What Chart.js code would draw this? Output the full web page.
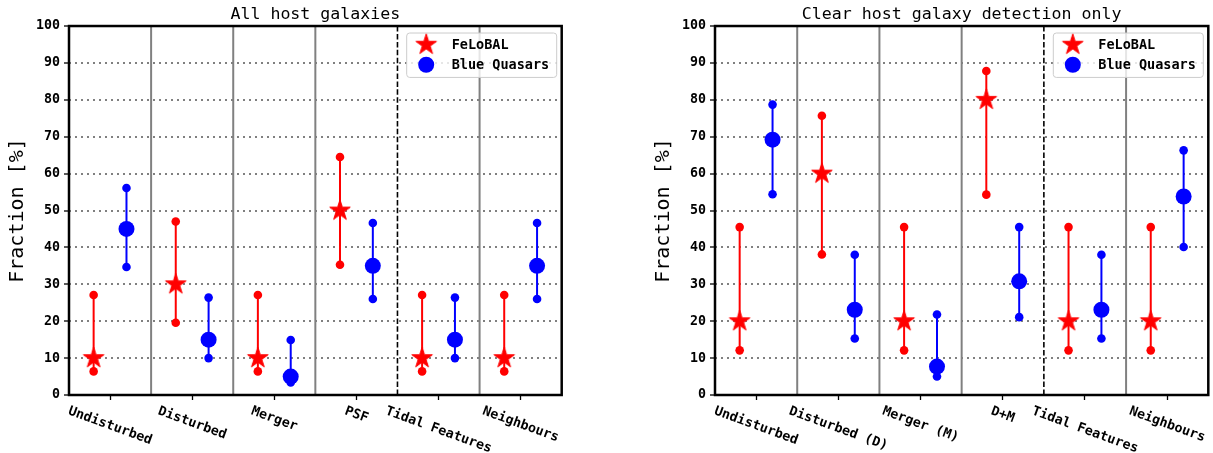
<!DOCTYPE html>
<html><head><meta charset="utf-8">
<script src="https://cdn.jsdelivr.net/npm/chart.js@4"></script>
<style>
html,body{margin:0;padding:0;background:#fff;width:1213px;height:453px;overflow:hidden}
#c1{position:absolute;left:0;top:0}
#c2{position:absolute;left:646px;top:0}
</style></head><body>
<canvas id="c1" width="606" height="453"></canvas>
<canvas id="c2" width="567" height="453"></canvas>
<script>
// ---------------- data ----------------
const titleAll = 'All host galaxies';
const titleClear = 'Clear host galaxy detection only';
const yAxisLabel = 'Fraction [%]';
const seriesNames = ['FeLoBAL', 'Blue Quasars'];
const yMin = 0, yMax = 100, yStep = 10;
const dividerAfter = 3; // dashed divider after the 4th category

const categoriesAll = ['Undisturbed', 'Disturbed', 'Merger', 'PSF', 'Tidal Features', 'Neighbours'];
const feloAll   = [10, 30, 10, 50, 10, 10];
const feloAllLo = [6.4, 19.6, 6.4, 35.3, 6.4, 6.4];
const feloAllHi = [27.1, 47.0, 27.1, 64.5, 27.1, 27.1];
const blueAll   = [45, 15, 5, 35, 15, 35];
const blueAllLo = [34.7, 10.0, 3.4, 26.0, 10.0, 26.0];
const blueAllHi = [56.1, 26.4, 14.9, 46.6, 26.4, 46.6];

const categoriesClear = ['Undisturbed', 'Disturbed (D)', 'Merger (M)', 'D+M', 'Tidal Features', 'Neighbours'];
const feloClear   = [20, 60, 20, 80, 20, 20];
const feloClearLo = [12.1, 38.1, 12.1, 54.3, 12.1, 12.1];
const feloClearHi = [45.5, 75.7, 45.5, 87.8, 45.5, 45.5];
const blueClear   = [69.2, 23.1, 7.7, 30.8, 23.1, 53.8];
const blueClearLo = [54.4, 15.3, 5.0, 21.1, 15.3, 40.1];
const blueClearHi = [78.7, 38.0, 21.8, 45.5, 38.0, 66.3];

// ---------------- style ----------------
const MONO = '"DejaVu Sans Mono", monospace';
const RED = '#ff0000', BLUE = '#0000ff';
const pairOffset = 0.2;

function makeStar(R, color) {
  const s = Math.ceil(R * 2 + 4);
  const c = document.createElement('canvas');
  c.width = s; c.height = s;
  const g = c.getContext('2d');
  const cx = s / 2, cy = s / 2, r = R * 0.382;
  g.beginPath();
  for (let k = 0; k < 10; k++) {
    const rr = k % 2 === 0 ? R : r;
    const a = -Math.PI / 2 + k * Math.PI / 5;
    const px = cx + rr * Math.cos(a), py = cy + rr * Math.sin(a);
    if (k === 0) g.moveTo(px, py); else g.lineTo(px, py);
  }
  g.closePath();
  g.fillStyle = color; g.fill();
  g.lineWidth = 1; g.strokeStyle = color; g.stroke();
  return c;
}
const starImg = makeStar(10.8, RED);

function makeLabelRotate(cats) {
  return {
    id: 'labelRotate',
    beforeDraw(chart) {
      const sc = chart.scales.x;
      const items = sc.getLabelItems(chart.chartArea);
      const ctx = chart.ctx;
      const th = 20 * Math.PI / 180;
      const h = 15.5;
      ctx.save();
      items.forEach(it => {
        ctx.font = it.font.string;
        const w = ctx.measureText(it.label).width;
        const idx = cats.indexOf(it.label);
        const cx = sc.getPixelForValue(idx);
        const cy = chart.chartArea.bottom + 8.5 + (w * Math.sin(th) + h * Math.cos(th)) / 2;
        it.options.translation = [cx, cy];
        it.options.rotation = th;
        it.options.textAlign = 'center';
        it.options.textBaseline = 'middle';
        it.textOffset = 0;
      });
      ctx.restore();
    }
  };
}

const frame = {
  id: 'frame',
  afterDatasetsDraw(chart) {
    const a = chart.chartArea, ctx = chart.ctx;
    ctx.save();
    ctx.lineWidth = 2.5; ctx.strokeStyle = '#000';
    ctx.strokeRect(a.left, a.top, a.right - a.left, a.bottom - a.top);
    ctx.restore();
  }
};

const boxLegend = {
  id: 'boxLegend',
  afterDraw(chart) {
    const a = chart.chartArea, ctx = chart.ctx;
    const w = 150, h = 44.4;
    const x0 = a.right - 5 - w, y0 = a.top + 7;
    ctx.save();
    ctx.beginPath();
    if (ctx.roundRect) ctx.roundRect(x0, y0, w, h, 3); else ctx.rect(x0, y0, w, h);
    ctx.fillStyle = 'rgba(255,255,255,0.8)'; ctx.fill();
    ctx.lineWidth = 1; ctx.strokeStyle = '#cccccc'; ctx.stroke();
    const rows = [y0 + 11.7, y0 + 31.7];
    const mx = x0 + 19.5;
    ctx.drawImage(starImg, mx - starImg.width / 2, rows[0] - starImg.height / 2);
    ctx.beginPath(); ctx.arc(mx, rows[1], 8, 0, Math.PI * 2); ctx.fillStyle = BLUE; ctx.fill();
    ctx.fillStyle = '#000';
    ctx.font = 'bold 13.5px ' + MONO;
    ctx.textBaseline = 'middle'; ctx.textAlign = 'left';
    ctx.fillText(chart.data.datasets[0].label, x0 + 45, rows[0] + 1);
    ctx.fillText(chart.data.datasets[1].label, x0 + 45, rows[1] + 1);
    ctx.restore();
  }
};

function errData(cats, lo, hi, off) {
  const out = [];
  cats.forEach((c, i) => {
    out.push({x: i + off, y: lo[i]}, {x: i + off, y: hi[i]}, {x: i + off, y: null});
  });
  return out;
}
function sepData(cats, dashed) {
  const out = [];
  for (let i = 0; i < cats.length - 1; i++) {
    if ((i === dividerAfter) !== dashed) continue;
    out.push({x: i + 0.5, y: yMin}, {x: i + 0.5, y: yMax}, {x: i + 0.5, y: null});
  }
  return out;
}

function makeChart(id, title, cats, felo, feloLo, feloHi, blue, blueLo, blueHi, padRight) {
  const canvas = document.getElementById(id);
  return new Chart(canvas, {
    type: 'line',
    data: {
      datasets: [
        {label: seriesNames[0], data: cats.map((c, i) => ({x: i - pairOffset, y: felo[i]})),
         showLine: false, pointStyle: starImg, pointRadius: 10, order: 1},
        {label: seriesNames[1], data: cats.map((c, i) => ({x: i + pairOffset, y: blue[i]})),
         showLine: false, pointStyle: 'circle', pointRadius: 8, pointBackgroundColor: BLUE,
         pointBorderWidth: 0, borderColor: BLUE, order: 1},
        {label: 'felo_err', data: errData(cats, feloLo, feloHi, -pairOffset), borderColor: RED,
         borderWidth: 2, pointRadius: 4.3, pointBackgroundColor: RED, pointBorderWidth: 0,
         spanGaps: false, order: 2},
        {label: 'blue_err', data: errData(cats, blueLo, blueHi, pairOffset), borderColor: BLUE,
         borderWidth: 2, pointRadius: 4.3, pointBackgroundColor: BLUE, pointBorderWidth: 0,
         spanGaps: false, order: 2},
        {label: 'sep', data: sepData(cats, false), borderColor: '#808080', borderWidth: 2,
         pointRadius: 0, spanGaps: false, order: 3},
        {label: 'sep_dash', data: sepData(cats, true), borderColor: '#000', borderWidth: 1.6,
         borderDash: [5.5, 2.4], pointRadius: 0, spanGaps: false, order: 3}
      ]
    },
    options: {
      responsive: false, animation: false, devicePixelRatio: 1,
      events: [],
      layout: {autoPadding: false, padding: {left: 0, right: padRight, top: 0, bottom: 0}},
      plugins: {
        legend: {display: false},
        tooltip: {enabled: false},
        title: {display: true, text: title, fullSize: false, color: '#000',
                font: {family: MONO, size: 16.6, weight: 'normal'},
                padding: {top: 4.5, bottom: 1.6}}
      },
      scales: {
        x: {
          type: 'linear', min: -0.5, max: cats.length - 0.5,
          afterBuildTicks: s => { s.ticks = cats.map((c, i) => ({value: i})); },
          afterFit: s => { s.height = 58; s.paddingLeft = 0; s.paddingRight = 0; },
          ticks: {autoSkip: false, maxRotation: 0, minRotation: 0, color: '#000',
                  font: {family: MONO, size: 13.3, weight: 'bold'},
                  callback: v => cats[v] !== undefined ? cats[v] : ''},
          grid: {drawOnChartArea: false, drawTicks: true, tickLength: 5, tickColor: '#000', tickWidth: 1.3},
          border: {display: false}
        },
        y: {
          min: yMin, max: yMax,
          afterFit: s => { s.width = 69; },
          ticks: {stepSize: yStep, color: '#000', padding: 4,
                  font: {family: MONO, size: 13.3, weight: 'bold'}},
          grid: {drawOnChartArea: true, drawTicks: true, tickLength: 5, tickColor: '#000', tickWidth: 1.3,
                 lineWidth: 2,
                 color: ctx => (ctx.tick && (ctx.tick.value === yMin || ctx.tick.value === yMax)) ? 'rgba(0,0,0,0)' : '#808080'},
          border: {display: false, dash: [2, 4]},
          title: {display: true, text: yAxisLabel, color: '#000',
                  font: {family: MONO, size: 20, weight: 'normal'},
                  padding: {top: 6, bottom: 0}}
        }
      }
    },
    plugins: [makeLabelRotate(cats), frame, boxLegend]
  });
}

makeChart('c1', titleAll, categoriesAll, feloAll, feloAllLo, feloAllHi, blueAll, blueAllLo, blueAllHi, 44.3);
makeChart('c2', titleClear, categoriesClear, feloClear, feloClearLo, feloClearHi, blueClear, blueClearLo, blueClearHi, 4.7);
</script>
</body></html>
